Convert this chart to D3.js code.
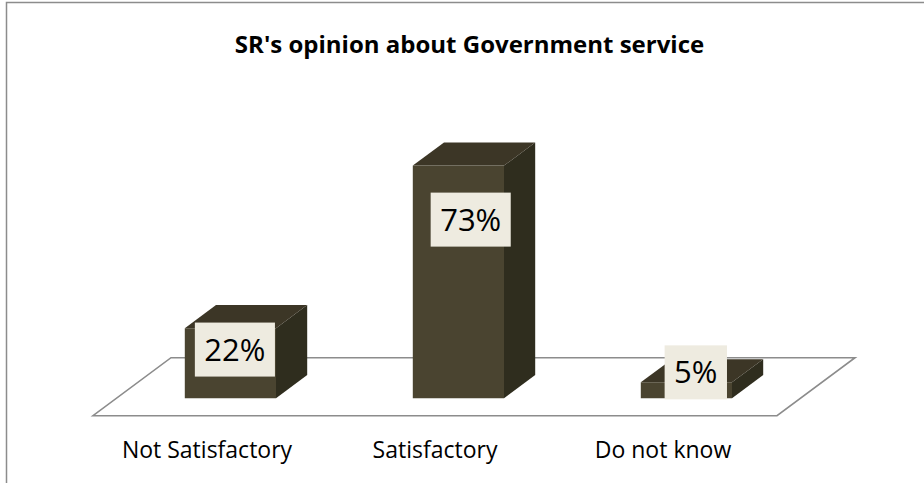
<!DOCTYPE html>
<html>
<head>
<meta charset="utf-8">
<script src="https://cdn.jsdelivr.net/npm/d3@7"></script>
<style>
  html, body { margin: 0; padding: 0; background: #fff; }
  svg { display: block; }
</style>
</head>
<body>
<svg id="chart" width="924" height="483"></svg>
<script>
// Survey result: share of SRs by opinion
const title = "SR's opinion about Government service";
const categories = ["Not Satisfactory", "Satisfactory", "Do not know"];
const values = [22, 73, 5];
const valueLabels = ["22%", "73%", "5%"];

// Label box offsets relative to the top-front centre of each column
const labelNudge = [[4.5, 21.4], [12.3, 54], [9.4, -10]];

const W = 924, H = 483;
const svg = d3.select("#chart");

// Oblique 3D projection: x along the category axis, v value, z depth (0 front .. 1 back)
const floorFront = 415.7;
const depthVec = [78, -58];

const x = d3.scaleBand()
  .domain(categories)
  .range([93, 777])
  .paddingInner(0.6)
  .paddingOuter(0.3);

const y = d3.scaleLinear().domain([0, 80]).range([0, 255]);

function proj(px, v, z) {
  return [px + depthVec[0] * z, floorFront - y(v) + depthVec[1] * z];
}
const poly = pts => "M" + pts.map(p => p.join(",")).join("L") + "Z";

// Chart border
svg.append("rect")
  .attr("x", 6.5).attr("y", 2.5)
  .attr("width", W + 10).attr("height", H + 10)
  .attr("fill", "none")
  .attr("stroke", "#8c8c8c")
  .attr("stroke-width", 1.5);

// Title
svg.append("text")
  .attr("x", 469.5).attr("y", 52.7)
  .attr("text-anchor", "middle")
  .attr("font-family", "'Open Sans', sans-serif")
  .attr("font-weight", "bold")
  .attr("font-size", 24)
  .attr("fill", "#000")
  .text(title);

// Floor
const [x0, x1] = x.range();
svg.append("path")
  .attr("d", poly([proj(x0, 0, 0), proj(x1, 0, 0), proj(x1, 0, 1), proj(x0, 0, 1)]))
  .attr("fill", "#fff")
  .attr("stroke", "#8c8c8c")
  .attr("stroke-width", 1.6);

// Columns
const z0 = 0.3, z1 = 0.7;
const colors = { front: "#4a4430", side: "#2f2d1e", top: "#3c3626" };
const bw = x.bandwidth();

const bars = svg.append("g").selectAll("g")
  .data(categories.map((c, i) => ({ c, v: values[i], i })))
  .join("g");

bars.append("path")
  .attr("d", d => {
    const xr = x(d.c) + bw;
    return poly([proj(xr, 0, z0), proj(xr, 0, z1), proj(xr, d.v, z1), proj(xr, d.v, z0)]);
  })
  .attr("fill", colors.side);

bars.append("path")
  .attr("d", d => {
    const xl = x(d.c), xr = xl + bw;
    return poly([proj(xl, d.v, z0), proj(xr, d.v, z0), proj(xr, d.v, z1), proj(xl, d.v, z1)]);
  })
  .attr("fill", colors.top);

bars.append("path")
  .attr("d", d => {
    const xl = x(d.c), xr = xl + bw;
    return poly([proj(xl, 0, z0), proj(xr, 0, z0), proj(xr, d.v, z0), proj(xl, d.v, z0)]);
  })
  .attr("fill", colors.front);

// Value labels in boxes
const labelSize = 31;
bars.each(function (d) {
  const g = d3.select(this);
  const [tx, ty] = proj(x(d.c) + bw / 2, d.v, z0);
  const cx = tx + labelNudge[d.i][0];
  const cy = ty + labelNudge[d.i][1];
  const t = g.append("text")
    .attr("x", cx)
    .attr("y", cy + labelSize * 0.714 / 2)
    .attr("text-anchor", "middle")
    .attr("font-family", "'Open Sans', sans-serif")
    .attr("font-size", labelSize)
    .attr("fill", "#000")
    .text(valueLabels[d.i]);
  const tw = t.node().getComputedTextLength();
  g.insert("rect", "text")
    .attr("x", cx - tw / 2 - 9.5)
    .attr("y", cy - 27)
    .attr("width", tw + 19)
    .attr("height", 54)
    .attr("fill", "#eeebe0");
});

// Category labels along the front edge of the floor
svg.append("g").selectAll("text")
  .data(categories)
  .join("text")
  .attr("x", d => x(d) + bw / 2)
  .attr("y", 458)
  .attr("text-anchor", "middle")
  .attr("font-family", "'Open Sans', sans-serif")
  .attr("font-size", 23)
  .attr("fill", "#000")
  .text(d => d);
</script>
</body>
</html>
